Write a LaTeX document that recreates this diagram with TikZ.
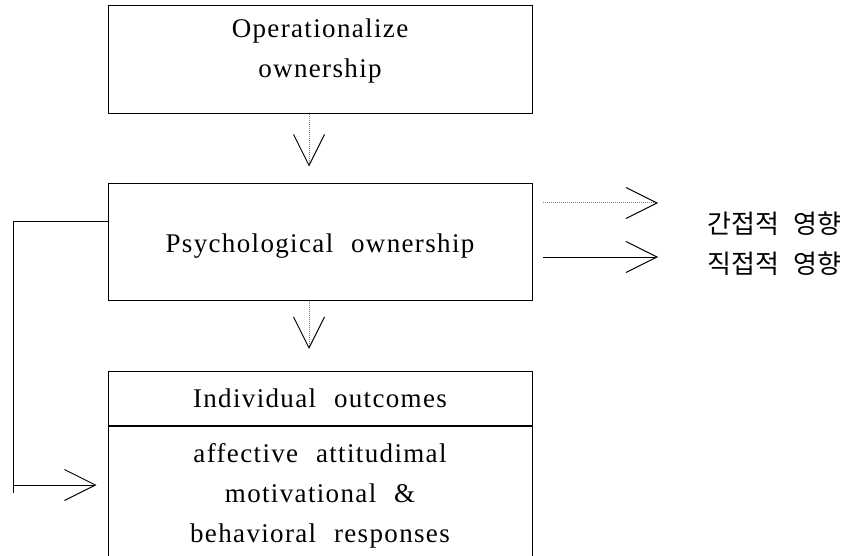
\documentclass[tikz,border=0pt]{standalone}
\usepackage{fontspec}
\setmainfont{Liberation Serif}[LetterSpace=5,WordSpace=2.2]
\newfontfamily\kofont{Noto Sans CJK KR}[WordSpace=2.5]
\usetikzlibrary{arrows.meta,positioning}

\begin{document}
\begin{tikzpicture}[x=1pt,y=1pt,yscale=-1,xscale=1,
    box/.style={draw,line width=1pt,minimum width=424pt,align=center,inner sep=0pt,
      font=\fontsize{27}{40}\selectfont},
    kolabel/.style={inner sep=0pt,font=\kofont\fontsize{26}{28}\selectfont},
    barb/.style={-{Straight Barb[length=31pt,width=31pt,line width=1pt,color=black]}},
    direct/.style={barb,draw=black,line width=1pt},
    indirect/.style={barb,draw=gray,line width=1pt,dash pattern=on 1pt off 1pt}]
        \useasboundingbox (0,0) rectangle (854,556);

        %Shape: Rectangle [opown]
        \node[box,minimum height=108pt,text height=58pt,text depth=22pt] (opown) at (320,60) {Operationalize\\ownership};
        %Shape: Rectangle [psy]
        \node[box,minimum height=116pt,text height=20pt,text depth=0pt] (psy) at (320,242) {Psychological ownership};
        %Shape: Rectangle [outhead]
        \node[box,minimum height=54pt,anchor=north] (outhead) at (320,371) {Individual outcomes};
        %Shape: Rectangle [outbody]
        \node[box,minimum height=138pt,below=0pt of outhead] (outbody) {affective attitudimal\\motivational \&\\behavioral responses};

        %Straight Lines [arrows down]
        \draw[indirect,shorten >=17pt] ([xshift=-11pt]opown.south) -- ([xshift=-11pt]psy.north);
        \draw[indirect,shorten >=22pt] ([xshift=-11pt]psy.south) -- ([xshift=-11pt]outhead.north);

        %Straight Lines [feedback]
        \coordinate (fbtop) at (13,222);
        \coordinate (fbfoot) at (13,493);
        \coordinate (fbtip) at (97,485);
        \draw[line width=1pt] (psy.west |- fbtop) -- (fbtop) -- (fbfoot);
        \draw[direct,shorten >=11pt] (fbtop |- fbtip) -- (outbody.west |- fbtip);

        % Text Node [legend]
        \node[kolabel,anchor=west] (indlabel) at (707,224) {간접적 영향};
        \node[kolabel,anchor=west] (dirlabel) at (707,264) {직접적 영향};
        \coordinate (indstart) at (543,203);
        \coordinate (indend) at (658,203);
        \coordinate (dirstart) at (543,257);
        \coordinate (dirend) at (658,257);
        \draw[indirect] (indstart) -- (indend);
        \draw[direct] (dirstart) -- (dirend);
    \end{tikzpicture}
\end{document}
